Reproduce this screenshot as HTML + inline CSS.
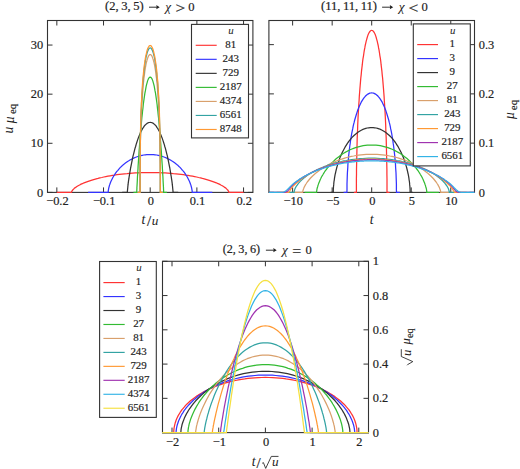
<!DOCTYPE html>
<html><head><meta charset="utf-8"><style>
html,body{margin:0;padding:0;background:#fff;}
svg{display:block;font-family:"Liberation Serif", serif;}
text{fill:#222;stroke:#222;stroke-width:0.18px;}
tspan[font-style=italic]{stroke:none;}
</style></head><body>
<svg width="520" height="469" viewBox="0 0 520 469">
<rect width="520" height="469" fill="#fff"/>
<rect x="47.50" y="20.50" width="205.40" height="171.90" fill="none" stroke="#333" stroke-width="1.1"/>
<path d="M56.84,192.40V187.40M56.84,20.50V25.50" stroke="#333" stroke-width="1"/>
<path d="M103.52,192.40V187.40M103.52,20.50V25.50" stroke="#333" stroke-width="1"/>
<path d="M150.20,192.40V187.40M150.20,20.50V25.50" stroke="#333" stroke-width="1"/>
<path d="M196.88,192.40V187.40M196.88,20.50V25.50" stroke="#333" stroke-width="1"/>
<path d="M243.56,192.40V187.40M243.56,20.50V25.50" stroke="#333" stroke-width="1"/>
<path d="M47.50,192.40H52.50M252.90,192.40H247.90" stroke="#333" stroke-width="1"/>
<path d="M47.50,143.29H52.50M252.90,143.29H247.90" stroke="#333" stroke-width="1"/>
<path d="M47.50,94.17H52.50M252.90,94.17H247.90" stroke="#333" stroke-width="1"/>
<path d="M47.50,45.06H52.50M252.90,45.06H247.90" stroke="#333" stroke-width="1"/>
<g fill="none" stroke-width="1.25" stroke-linejoin="round">
<path d="M56.8,192.4 L71.5,192.4 L71.6,192.1 L71.7,191.8 L71.8,191.4 L72.0,190.9 L72.3,190.5 L72.7,190.0 L73.1,189.6 L73.6,189.1 L74.1,188.6 L74.7,188.1 L75.3,187.6 L76.1,187.1 L76.9,186.5 L77.7,186.0 L78.6,185.5 L79.6,185.0 L80.6,184.4 L81.7,183.9 L82.9,183.4 L84.1,182.8 L85.4,182.3 L86.8,181.8 L88.2,181.3 L89.7,180.8 L91.2,180.3 L92.8,179.8 L94.5,179.3 L96.2,178.8 L98.0,178.4 L99.9,177.9 L101.8,177.5 L103.8,177.0 L105.8,176.6 L107.9,176.2 L110.1,175.8 L112.3,175.4 L114.6,175.1 L117.0,174.7 L119.4,174.4 L121.9,174.1 L124.4,173.8 L127.0,173.6 L129.7,173.3 L132.5,173.1 L135.3,172.9 L138.1,172.8 L141.0,172.7 L144.0,172.6 L147.1,172.5 L150.2,172.5 L153.3,172.5 L156.4,172.6 L159.4,172.7 L162.3,172.8 L165.1,172.9 L167.9,173.1 L170.7,173.3 L173.4,173.6 L176.0,173.8 L178.5,174.1 L181.0,174.4 L183.4,174.7 L185.8,175.1 L188.1,175.4 L190.3,175.8 L192.5,176.2 L194.6,176.6 L196.6,177.0 L198.6,177.5 L200.5,177.9 L202.4,178.4 L204.2,178.8 L205.9,179.3 L207.6,179.8 L209.2,180.3 L210.7,180.8 L212.2,181.3 L213.6,181.8 L215.0,182.3 L216.3,182.8 L217.5,183.4 L218.7,183.9 L219.8,184.4 L220.8,185.0 L221.8,185.5 L222.7,186.0 L223.5,186.5 L224.3,187.1 L225.1,187.6 L225.7,188.1 L226.3,188.6 L226.8,189.1 L227.3,189.6 L227.7,190.0 L228.1,190.5 L228.4,190.9 L228.6,191.4 L228.7,191.8 L228.8,192.1 L228.9,192.4 L243.6,192.4" stroke="#ff3333"/>
<path d="M88.1,192.4 L108.2,192.4 L108.2,191.9 L108.3,191.2 L108.3,190.4 L108.5,189.6 L108.6,188.8 L108.8,187.9 L109.0,187.0 L109.3,186.1 L109.5,185.1 L109.9,184.2 L110.2,183.2 L110.6,182.2 L111.0,181.2 L111.5,180.2 L112.0,179.2 L112.5,178.2 L113.0,177.2 L113.6,176.2 L114.3,175.2 L114.9,174.2 L115.6,173.2 L116.3,172.2 L117.1,171.2 L117.9,170.3 L118.7,169.3 L119.5,168.4 L120.4,167.4 L121.4,166.5 L122.3,165.6 L123.3,164.8 L124.3,163.9 L125.4,163.1 L126.5,162.3 L127.6,161.5 L128.8,160.8 L130.0,160.0 L131.2,159.4 L132.5,158.7 L133.7,158.1 L135.1,157.5 L136.4,157.0 L137.8,156.5 L139.3,156.0 L140.7,155.7 L142.2,155.3 L143.7,155.0 L145.3,154.8 L146.9,154.6 L148.5,154.5 L150.2,154.5 L151.9,154.5 L153.5,154.6 L155.1,154.8 L156.7,155.0 L158.2,155.3 L159.7,155.7 L161.1,156.0 L162.6,156.5 L164.0,157.0 L165.3,157.5 L166.7,158.1 L167.9,158.7 L169.2,159.4 L170.4,160.0 L171.6,160.8 L172.8,161.5 L173.9,162.3 L175.0,163.1 L176.1,163.9 L177.1,164.8 L178.1,165.6 L179.0,166.5 L180.0,167.4 L180.9,168.4 L181.7,169.3 L182.5,170.3 L183.3,171.2 L184.1,172.2 L184.8,173.2 L185.5,174.2 L186.1,175.2 L186.8,176.2 L187.4,177.2 L187.9,178.2 L188.4,179.2 L188.9,180.2 L189.4,181.2 L189.8,182.2 L190.2,183.2 L190.5,184.2 L190.9,185.1 L191.1,186.1 L191.4,187.0 L191.6,187.9 L191.8,188.8 L191.9,189.6 L192.1,190.4 L192.1,191.2 L192.2,191.9 L192.2,192.4 L212.3,192.4" stroke="#3333ff"/>
<path d="M122.2,192.4 L127.3,192.4 L127.3,192.2 L127.4,191.7 L127.4,191.0 L127.5,190.3 L127.6,189.3 L127.7,188.3 L127.8,187.2 L127.9,186.0 L128.1,184.7 L128.2,183.3 L128.4,181.8 L128.6,180.3 L128.9,178.7 L129.1,177.0 L129.4,175.3 L129.7,173.5 L130.0,171.7 L130.3,169.9 L130.6,168.0 L131.0,166.1 L131.4,164.1 L131.8,162.2 L132.2,160.2 L132.6,158.2 L133.0,156.2 L133.5,154.3 L134.0,152.3 L134.5,150.3 L135.0,148.4 L135.6,146.5 L136.1,144.6 L136.7,142.7 L137.3,140.9 L137.9,139.1 L138.5,137.4 L139.2,135.7 L139.9,134.1 L140.5,132.6 L141.2,131.1 L142.0,129.7 L142.7,128.4 L143.5,127.3 L144.2,126.2 L145.0,125.2 L145.9,124.4 L146.7,123.7 L147.5,123.1 L148.4,122.7 L149.3,122.5 L150.2,122.4 L151.1,122.5 L152.0,122.7 L152.9,123.1 L153.7,123.7 L154.5,124.4 L155.4,125.2 L156.2,126.2 L156.9,127.3 L157.7,128.4 L158.4,129.7 L159.2,131.1 L159.9,132.6 L160.5,134.1 L161.2,135.7 L161.9,137.4 L162.5,139.1 L163.1,140.9 L163.7,142.7 L164.3,144.6 L164.8,146.5 L165.4,148.4 L165.9,150.3 L166.4,152.3 L166.9,154.3 L167.4,156.2 L167.8,158.2 L168.2,160.2 L168.6,162.2 L169.0,164.1 L169.4,166.1 L169.8,168.0 L170.1,169.9 L170.4,171.7 L170.7,173.5 L171.0,175.3 L171.3,177.0 L171.5,178.7 L171.8,180.3 L172.0,181.8 L172.2,183.3 L172.3,184.7 L172.5,186.0 L172.6,187.2 L172.7,188.3 L172.8,189.3 L172.9,190.3 L173.0,191.0 L173.0,191.7 L173.1,192.2 L173.1,192.4 L178.2,192.4" stroke="#333333"/>
<path d="M133.4,192.4 L136.8,192.4 L136.8,192.2 L136.8,191.7 L136.8,191.0 L136.8,190.1 L136.9,189.0 L136.9,187.7 L137.0,186.2 L137.1,184.5 L137.2,182.7 L137.3,180.7 L137.4,178.6 L137.5,176.3 L137.7,173.9 L137.8,171.4 L138.0,168.8 L138.1,166.0 L138.3,163.2 L138.5,160.2 L138.7,157.2 L138.9,154.1 L139.1,150.9 L139.4,147.6 L139.6,144.3 L139.9,141.0 L140.1,137.6 L140.4,134.2 L140.7,130.8 L141.0,127.4 L141.3,124.0 L141.6,120.7 L141.9,117.3 L142.3,114.0 L142.6,110.8 L143.0,107.6 L143.3,104.5 L143.7,101.5 L144.1,98.6 L144.5,95.8 L144.9,93.2 L145.4,90.7 L145.8,88.3 L146.2,86.2 L146.7,84.2 L147.2,82.4 L147.6,80.9 L148.1,79.6 L148.6,78.5 L149.1,77.8 L149.7,77.3 L150.2,77.1 L150.7,77.3 L151.3,77.8 L151.8,78.5 L152.3,79.6 L152.8,80.9 L153.2,82.4 L153.7,84.2 L154.2,86.2 L154.6,88.3 L155.0,90.7 L155.5,93.2 L155.9,95.8 L156.3,98.6 L156.7,101.5 L157.1,104.5 L157.4,107.6 L157.8,110.8 L158.1,114.0 L158.5,117.3 L158.8,120.7 L159.1,124.0 L159.4,127.4 L159.7,130.8 L160.0,134.2 L160.3,137.6 L160.5,141.0 L160.8,144.3 L161.0,147.6 L161.3,150.9 L161.5,154.1 L161.7,157.2 L161.9,160.2 L162.1,163.2 L162.3,166.0 L162.4,168.8 L162.6,171.4 L162.7,173.9 L162.9,176.3 L163.0,178.6 L163.1,180.7 L163.2,182.7 L163.3,184.5 L163.4,186.2 L163.5,187.7 L163.5,189.0 L163.6,190.1 L163.6,191.0 L163.6,191.7 L163.6,192.2 L163.6,192.4 L167.0,192.4" stroke="#33bb33"/>
<path d="M137.6,192.4 L140.0,192.4 L140.0,184.4 L140.0,178.6 L140.1,173.3 L140.1,168.3 L140.1,163.6 L140.2,159.1 L140.2,154.8 L140.3,150.6 L140.4,146.6 L140.4,142.6 L140.5,138.8 L140.6,135.0 L140.7,131.3 L140.8,127.7 L140.9,124.2 L141.1,120.8 L141.2,117.5 L141.3,114.2 L141.5,111.0 L141.7,107.9 L141.8,104.8 L142.0,101.8 L142.2,98.9 L142.4,96.1 L142.6,93.4 L142.8,90.7 L143.0,88.1 L143.2,85.5 L143.4,83.1 L143.7,80.7 L143.9,78.5 L144.2,76.3 L144.5,74.1 L144.7,72.1 L145.0,70.2 L145.3,68.3 L145.6,66.6 L145.9,65.0 L146.2,63.4 L146.5,62.0 L146.9,60.7 L147.2,59.4 L147.6,58.4 L147.9,57.4 L148.3,56.5 L148.6,55.8 L149.0,55.3 L149.4,54.9 L149.8,54.6 L150.2,54.5 L150.6,54.6 L151.0,54.9 L151.4,55.3 L151.8,55.8 L152.1,56.5 L152.5,57.4 L152.8,58.4 L153.2,59.4 L153.5,60.7 L153.9,62.0 L154.2,63.4 L154.5,65.0 L154.8,66.6 L155.1,68.3 L155.4,70.2 L155.7,72.1 L155.9,74.1 L156.2,76.3 L156.5,78.5 L156.7,80.7 L157.0,83.1 L157.2,85.5 L157.4,88.1 L157.6,90.7 L157.8,93.4 L158.0,96.1 L158.2,98.9 L158.4,101.8 L158.6,104.8 L158.7,107.9 L158.9,111.0 L159.1,114.2 L159.2,117.5 L159.3,120.8 L159.5,124.2 L159.6,127.7 L159.7,131.3 L159.8,135.0 L159.9,138.8 L160.0,142.6 L160.0,146.6 L160.1,150.6 L160.2,154.8 L160.2,159.1 L160.3,163.6 L160.3,168.3 L160.3,173.3 L160.4,178.6 L160.4,184.4 L160.4,192.4 L162.8,192.4" stroke="#d9a06c"/>
<path d="M137.6,192.4 L140.1,192.4 L140.1,182.1 L140.1,175.2 L140.1,169.1 L140.1,163.6 L140.2,158.5 L140.2,153.6 L140.3,149.0 L140.3,144.5 L140.4,140.2 L140.5,136.1 L140.6,132.0 L140.7,128.1 L140.8,124.4 L140.9,120.7 L141.0,117.1 L141.1,113.6 L141.2,110.2 L141.4,106.9 L141.5,103.6 L141.7,100.5 L141.9,97.4 L142.0,94.4 L142.2,91.5 L142.4,88.7 L142.6,86.0 L142.8,83.3 L143.0,80.7 L143.2,78.2 L143.5,75.8 L143.7,73.5 L144.0,71.3 L144.2,69.1 L144.5,67.0 L144.8,65.0 L145.0,63.1 L145.3,61.3 L145.6,59.6 L145.9,58.0 L146.2,56.5 L146.6,55.1 L146.9,53.8 L147.2,52.7 L147.6,51.6 L147.9,50.7 L148.3,49.9 L148.6,49.2 L149.0,48.6 L149.4,48.2 L149.8,48.0 L150.2,47.9 L150.6,48.0 L151.0,48.2 L151.4,48.6 L151.8,49.2 L152.1,49.9 L152.5,50.7 L152.8,51.6 L153.2,52.7 L153.5,53.8 L153.8,55.1 L154.2,56.5 L154.5,58.0 L154.8,59.6 L155.1,61.3 L155.4,63.1 L155.6,65.0 L155.9,67.0 L156.2,69.1 L156.4,71.3 L156.7,73.5 L156.9,75.8 L157.2,78.2 L157.4,80.7 L157.6,83.3 L157.8,86.0 L158.0,88.7 L158.2,91.5 L158.4,94.4 L158.5,97.4 L158.7,100.5 L158.9,103.6 L159.0,106.9 L159.2,110.2 L159.3,113.6 L159.4,117.1 L159.5,120.7 L159.6,124.4 L159.7,128.1 L159.8,132.0 L159.9,136.1 L160.0,140.2 L160.1,144.5 L160.1,149.0 L160.2,153.6 L160.2,158.5 L160.3,163.6 L160.3,169.1 L160.3,175.2 L160.3,182.1 L160.3,192.4 L162.8,192.4" stroke="#33a3a3"/>
<path d="M137.6,192.4 L140.1,192.4 L140.1,180.3 L140.1,172.7 L140.2,166.3 L140.2,160.5 L140.2,155.1 L140.3,150.1 L140.3,145.3 L140.4,140.7 L140.4,136.3 L140.5,132.1 L140.6,128.1 L140.7,124.2 L140.8,120.3 L140.9,116.7 L141.0,113.1 L141.1,109.6 L141.3,106.2 L141.4,102.9 L141.6,99.8 L141.7,96.6 L141.9,93.6 L142.1,90.7 L142.3,87.9 L142.4,85.1 L142.6,82.4 L142.8,79.8 L143.1,77.3 L143.3,74.9 L143.5,72.5 L143.7,70.2 L144.0,68.1 L144.2,66.0 L144.5,64.0 L144.8,62.0 L145.1,60.2 L145.3,58.5 L145.6,56.8 L145.9,55.3 L146.3,53.8 L146.6,52.5 L146.9,51.2 L147.2,50.1 L147.6,49.1 L147.9,48.2 L148.3,47.4 L148.7,46.7 L149.0,46.2 L149.4,45.8 L149.8,45.6 L150.2,45.5 L150.6,45.6 L151.0,45.8 L151.4,46.2 L151.7,46.7 L152.1,47.4 L152.5,48.2 L152.8,49.1 L153.2,50.1 L153.5,51.2 L153.8,52.5 L154.1,53.8 L154.5,55.3 L154.8,56.8 L155.1,58.5 L155.3,60.2 L155.6,62.0 L155.9,64.0 L156.2,66.0 L156.4,68.1 L156.7,70.2 L156.9,72.5 L157.1,74.9 L157.3,77.3 L157.6,79.8 L157.8,82.4 L158.0,85.1 L158.1,87.9 L158.3,90.7 L158.5,93.6 L158.7,96.6 L158.8,99.8 L159.0,102.9 L159.1,106.2 L159.3,109.6 L159.4,113.1 L159.5,116.7 L159.6,120.3 L159.7,124.2 L159.8,128.1 L159.9,132.1 L160.0,136.3 L160.0,140.7 L160.1,145.3 L160.1,150.1 L160.2,155.1 L160.2,160.5 L160.2,166.3 L160.3,172.7 L160.3,180.3 L160.3,192.4 L162.8,192.4" stroke="#ff9933"/>
</g>
<rect x="268.90" y="20.50" width="205.60" height="171.90" fill="none" stroke="#333" stroke-width="1.1"/>
<path d="M292.62,192.40V187.40M292.62,20.50V25.50" stroke="#333" stroke-width="1"/>
<path d="M332.16,192.40V187.40M332.16,20.50V25.50" stroke="#333" stroke-width="1"/>
<path d="M371.70,192.40V187.40M371.70,20.50V25.50" stroke="#333" stroke-width="1"/>
<path d="M411.24,192.40V187.40M411.24,20.50V25.50" stroke="#333" stroke-width="1"/>
<path d="M450.78,192.40V187.40M450.78,20.50V25.50" stroke="#333" stroke-width="1"/>
<path d="M268.90,192.40H273.90M474.50,192.40H469.50" stroke="#333" stroke-width="1"/>
<path d="M268.90,143.14H273.90M474.50,143.14H469.50" stroke="#333" stroke-width="1"/>
<path d="M268.90,93.89H273.90M474.50,93.89H469.50" stroke="#333" stroke-width="1"/>
<path d="M268.90,44.63H273.90M474.50,44.63H469.50" stroke="#333" stroke-width="1"/>
<g fill="none" stroke-width="1.25" stroke-linejoin="round">
<path d="M353.9,192.4 L356.4,192.4 L356.4,187.8 L356.4,183.2 L356.4,178.7 L356.5,174.1 L356.5,169.5 L356.6,165.0 L356.7,160.5 L356.8,156.0 L356.9,151.5 L357.0,147.0 L357.1,142.6 L357.2,138.2 L357.4,133.8 L357.6,129.5 L357.7,125.2 L357.9,121.0 L358.1,116.8 L358.3,112.6 L358.6,108.5 L358.8,104.5 L359.1,100.5 L359.3,96.6 L359.6,92.7 L359.9,88.9 L360.2,85.2 L360.5,81.6 L360.8,78.0 L361.2,74.6 L361.5,71.2 L361.9,67.9 L362.3,64.7 L362.6,61.6 L363.0,58.6 L363.5,55.8 L363.9,53.0 L364.3,50.4 L364.8,47.9 L365.2,45.5 L365.7,43.3 L366.2,41.2 L366.7,39.3 L367.2,37.5 L367.7,35.9 L368.2,34.5 L368.8,33.3 L369.3,32.3 L369.9,31.5 L370.5,30.8 L371.1,30.5 L371.7,30.4 L372.3,30.5 L372.9,30.8 L373.5,31.5 L374.1,32.3 L374.6,33.3 L375.2,34.5 L375.7,35.9 L376.2,37.5 L376.7,39.3 L377.2,41.2 L377.7,43.3 L378.2,45.5 L378.6,47.9 L379.1,50.4 L379.5,53.0 L379.9,55.8 L380.4,58.6 L380.8,61.6 L381.1,64.7 L381.5,67.9 L381.9,71.2 L382.2,74.6 L382.6,78.0 L382.9,81.6 L383.2,85.2 L383.5,88.9 L383.8,92.7 L384.1,96.6 L384.3,100.5 L384.6,104.5 L384.8,108.5 L385.1,112.6 L385.3,116.8 L385.5,121.0 L385.7,125.2 L385.8,129.5 L386.0,133.8 L386.2,138.2 L386.3,142.6 L386.4,147.0 L386.5,151.5 L386.6,156.0 L386.7,160.5 L386.8,165.0 L386.9,169.5 L386.9,174.1 L387.0,178.7 L387.0,183.2 L387.0,187.8 L387.0,192.4 L389.5,192.4" stroke="#ff3333"/>
<path d="M343.6,192.4 L346.9,192.4 L347.0,189.6 L347.0,186.8 L347.0,184.0 L347.1,181.2 L347.2,178.4 L347.3,175.6 L347.4,172.8 L347.6,170.0 L347.8,167.3 L347.9,164.5 L348.1,161.8 L348.4,159.1 L348.6,156.4 L348.9,153.8 L349.2,151.1 L349.5,148.5 L349.8,146.0 L350.2,143.4 L350.5,140.9 L350.9,138.4 L351.3,136.0 L351.7,133.6 L352.2,131.2 L352.7,128.9 L353.1,126.6 L353.6,124.4 L354.2,122.2 L354.7,120.0 L355.3,118.0 L355.9,116.0 L356.5,114.0 L357.1,112.1 L357.7,110.3 L358.4,108.5 L359.1,106.8 L359.8,105.2 L360.5,103.7 L361.2,102.2 L362.0,100.9 L362.8,99.6 L363.6,98.4 L364.4,97.3 L365.3,96.3 L366.1,95.5 L367.0,94.7 L367.9,94.1 L368.8,93.6 L369.8,93.2 L370.7,93.0 L371.7,92.9 L372.7,93.0 L373.6,93.2 L374.6,93.6 L375.5,94.1 L376.4,94.7 L377.3,95.5 L378.1,96.3 L379.0,97.3 L379.8,98.4 L380.6,99.6 L381.4,100.9 L382.2,102.2 L382.9,103.7 L383.6,105.2 L384.3,106.8 L385.0,108.5 L385.7,110.3 L386.3,112.1 L386.9,114.0 L387.5,116.0 L388.1,118.0 L388.7,120.0 L389.2,122.2 L389.8,124.4 L390.3,126.6 L390.7,128.9 L391.2,131.2 L391.7,133.6 L392.1,136.0 L392.5,138.4 L392.9,140.9 L393.2,143.4 L393.6,146.0 L393.9,148.5 L394.2,151.1 L394.5,153.8 L394.8,156.4 L395.0,159.1 L395.3,161.8 L395.5,164.5 L395.6,167.3 L395.8,170.0 L396.0,172.8 L396.1,175.6 L396.2,178.4 L396.3,181.2 L396.4,184.0 L396.4,186.8 L396.4,189.6 L396.5,192.4 L399.8,192.4" stroke="#3333ff"/>
<path d="M330.6,192.4 L333.3,192.4 L333.3,191.1 L333.3,189.6 L333.4,188.1 L333.5,186.5 L333.7,184.9 L333.8,183.2 L334.0,181.5 L334.3,179.8 L334.5,178.1 L334.8,176.4 L335.1,174.7 L335.5,173.0 L335.9,171.2 L336.3,169.5 L336.7,167.8 L337.2,166.1 L337.7,164.3 L338.2,162.6 L338.8,161.0 L339.4,159.3 L340.0,157.6 L340.7,156.0 L341.4,154.4 L342.1,152.8 L342.9,151.2 L343.7,149.7 L344.5,148.2 L345.3,146.7 L346.2,145.3 L347.1,143.9 L348.0,142.5 L349.0,141.2 L350.0,139.9 L351.0,138.6 L352.1,137.4 L353.2,136.3 L354.3,135.2 L355.5,134.2 L356.7,133.2 L357.9,132.3 L359.1,131.5 L360.4,130.7 L361.7,130.0 L363.0,129.4 L364.4,128.8 L365.8,128.4 L367.2,128.0 L368.7,127.8 L370.2,127.6 L371.7,127.5 L373.2,127.6 L374.7,127.8 L376.2,128.0 L377.6,128.4 L379.0,128.8 L380.4,129.4 L381.7,130.0 L383.0,130.7 L384.3,131.5 L385.5,132.3 L386.7,133.2 L387.9,134.2 L389.1,135.2 L390.2,136.3 L391.3,137.4 L392.4,138.6 L393.4,139.9 L394.4,141.2 L395.4,142.5 L396.3,143.9 L397.2,145.3 L398.1,146.7 L398.9,148.2 L399.7,149.7 L400.5,151.2 L401.3,152.8 L402.0,154.4 L402.7,156.0 L403.4,157.6 L404.0,159.3 L404.6,161.0 L405.2,162.6 L405.7,164.3 L406.2,166.1 L406.7,167.8 L407.1,169.5 L407.5,171.2 L407.9,173.0 L408.3,174.7 L408.6,176.4 L408.9,178.1 L409.1,179.8 L409.4,181.5 L409.6,183.2 L409.7,184.9 L409.9,186.5 L410.0,188.1 L410.1,189.6 L410.1,191.1 L410.1,192.4 L412.8,192.4" stroke="#333333"/>
<path d="M304.5,192.4 L316.6,192.4 L316.6,191.9 L316.7,191.2 L316.8,190.4 L316.9,189.5 L317.1,188.5 L317.4,187.5 L317.7,186.5 L318.0,185.4 L318.4,184.3 L318.8,183.1 L319.3,181.9 L319.8,180.7 L320.3,179.5 L320.9,178.3 L321.5,177.0 L322.2,175.8 L323.0,174.5 L323.7,173.3 L324.5,172.0 L325.4,170.7 L326.3,169.5 L327.3,168.2 L328.2,167.0 L329.3,165.7 L330.4,164.5 L331.5,163.3 L332.7,162.1 L333.9,160.9 L335.1,159.7 L336.4,158.6 L337.8,157.5 L339.2,156.4 L340.6,155.3 L342.1,154.3 L343.6,153.3 L345.2,152.4 L346.8,151.5 L348.4,150.6 L350.1,149.8 L351.9,149.0 L353.6,148.3 L355.5,147.7 L357.3,147.1 L359.3,146.6 L361.2,146.1 L363.2,145.7 L365.3,145.4 L367.4,145.2 L369.5,145.1 L371.7,145.0 L373.9,145.1 L376.0,145.2 L378.1,145.4 L380.2,145.7 L382.2,146.1 L384.1,146.6 L386.1,147.1 L387.9,147.7 L389.8,148.3 L391.5,149.0 L393.3,149.8 L395.0,150.6 L396.6,151.5 L398.2,152.4 L399.8,153.3 L401.3,154.3 L402.8,155.3 L404.2,156.4 L405.6,157.5 L407.0,158.6 L408.3,159.7 L409.5,160.9 L410.7,162.1 L411.9,163.3 L413.0,164.5 L414.1,165.7 L415.2,167.0 L416.1,168.2 L417.1,169.5 L418.0,170.7 L418.9,172.0 L419.7,173.3 L420.4,174.5 L421.2,175.8 L421.9,177.0 L422.5,178.3 L423.1,179.5 L423.6,180.7 L424.1,181.9 L424.6,183.1 L425.0,184.3 L425.4,185.4 L425.7,186.5 L426.0,187.5 L426.3,188.5 L426.5,189.5 L426.6,190.4 L426.7,191.2 L426.8,191.9 L426.8,192.4 L438.9,192.4" stroke="#33bb33"/>
<path d="M292.6,192.4 L302.7,192.4 L302.7,192.0 L302.8,191.4 L302.9,190.8 L303.1,190.1 L303.4,189.3 L303.7,188.5 L304.0,187.6 L304.4,186.8 L304.9,185.9 L305.4,184.9 L306.0,184.0 L306.6,183.0 L307.3,182.0 L308.1,181.0 L308.9,180.0 L309.7,179.0 L310.6,178.0 L311.6,177.0 L312.6,176.0 L313.7,175.0 L314.8,174.0 L316.0,172.9 L317.3,171.9 L318.6,170.9 L319.9,169.9 L321.3,169.0 L322.8,168.0 L324.3,167.0 L325.9,166.1 L327.5,165.2 L329.2,164.3 L330.9,163.4 L332.7,162.6 L334.6,161.8 L336.5,161.0 L338.5,160.2 L340.5,159.5 L342.5,158.8 L344.7,158.1 L346.8,157.5 L349.1,156.9 L351.4,156.4 L353.7,156.0 L356.1,155.5 L358.6,155.2 L361.1,154.9 L363.7,154.6 L366.3,154.4 L369.0,154.3 L371.7,154.3 L374.4,154.3 L377.1,154.4 L379.7,154.6 L382.3,154.9 L384.8,155.2 L387.3,155.5 L389.7,156.0 L392.0,156.4 L394.3,156.9 L396.6,157.5 L398.7,158.1 L400.9,158.8 L402.9,159.5 L404.9,160.2 L406.9,161.0 L408.8,161.8 L410.7,162.6 L412.5,163.4 L414.2,164.3 L415.9,165.2 L417.5,166.1 L419.1,167.0 L420.6,168.0 L422.1,169.0 L423.5,169.9 L424.8,170.9 L426.1,171.9 L427.4,172.9 L428.6,174.0 L429.7,175.0 L430.8,176.0 L431.8,177.0 L432.8,178.0 L433.7,179.0 L434.5,180.0 L435.3,181.0 L436.1,182.0 L436.8,183.0 L437.4,184.0 L438.0,184.9 L438.5,185.9 L439.0,186.8 L439.4,187.6 L439.7,188.5 L440.0,189.3 L440.3,190.1 L440.5,190.8 L440.6,191.4 L440.7,192.0 L440.7,192.4 L450.8,192.4" stroke="#d9a06c"/>
<path d="M284.7,192.4 L294.1,192.4 L294.2,191.9 L294.2,191.3 L294.4,190.6 L294.6,189.9 L294.9,189.1 L295.2,188.3 L295.6,187.5 L296.1,186.7 L296.6,185.8 L297.2,185.0 L297.9,184.1 L298.6,183.2 L299.4,182.3 L300.2,181.4 L301.1,180.5 L302.1,179.6 L303.1,178.7 L304.2,177.8 L305.3,176.9 L306.5,176.0 L307.8,175.1 L309.1,174.2 L310.5,173.3 L312.0,172.4 L313.5,171.6 L315.1,170.7 L316.7,169.9 L318.5,169.1 L320.2,168.3 L322.1,167.5 L323.9,166.7 L325.9,166.0 L327.9,165.2 L330.0,164.5 L332.1,163.9 L334.3,163.2 L336.6,162.6 L338.9,162.0 L341.3,161.5 L343.8,160.9 L346.3,160.5 L348.9,160.0 L351.5,159.6 L354.2,159.3 L357.0,159.0 L359.8,158.7 L362.7,158.5 L365.6,158.3 L368.6,158.2 L371.7,158.2 L374.8,158.2 L377.8,158.3 L380.7,158.5 L383.6,158.7 L386.4,159.0 L389.2,159.3 L391.9,159.6 L394.5,160.0 L397.1,160.5 L399.6,160.9 L402.1,161.5 L404.5,162.0 L406.8,162.6 L409.1,163.2 L411.3,163.9 L413.4,164.5 L415.5,165.2 L417.5,166.0 L419.5,166.7 L421.3,167.5 L423.2,168.3 L424.9,169.1 L426.7,169.9 L428.3,170.7 L429.9,171.6 L431.4,172.4 L432.9,173.3 L434.3,174.2 L435.6,175.1 L436.9,176.0 L438.1,176.9 L439.2,177.8 L440.3,178.7 L441.3,179.6 L442.3,180.5 L443.2,181.4 L444.0,182.3 L444.8,183.2 L445.5,184.1 L446.2,185.0 L446.8,185.8 L447.3,186.7 L447.8,187.5 L448.2,188.3 L448.5,189.1 L448.8,189.9 L449.0,190.6 L449.2,191.3 L449.2,191.9 L449.3,192.4 L458.7,192.4" stroke="#33a3a3"/>
<path d="M276.8,192.4 L287.5,192.4 L288.7,192.4 L289.9,190.8 L291.0,188.8 L292.2,187.2 L293.4,185.9 L294.6,184.7 L295.8,183.5 L297.0,182.5 L298.2,181.5 L299.3,180.5 L300.5,179.6 L301.7,178.8 L302.9,178.0 L304.1,177.2 L305.3,176.4 L306.5,175.7 L307.6,175.0 L308.8,174.3 L310.0,173.7 L311.2,173.0 L312.4,172.4 L313.6,171.8 L314.8,171.3 L316.0,170.7 L317.1,170.2 L318.3,169.7 L319.5,169.1 L320.7,168.7 L321.9,168.2 L323.1,167.7 L324.3,167.3 L325.4,166.9 L326.6,166.4 L327.8,166.0 L329.0,165.7 L330.2,165.3 L331.4,164.9 L332.6,164.6 L333.7,164.2 L334.9,163.9 L336.1,163.6 L337.3,163.3 L338.5,163.0 L339.7,162.7 L340.9,162.4 L342.0,162.2 L343.2,161.9 L344.4,161.7 L345.6,161.5 L346.8,161.3 L348.0,161.1 L349.2,160.9 L350.3,160.7 L351.5,160.5 L352.7,160.4 L353.9,160.2 L355.1,160.1 L356.3,159.9 L357.5,159.8 L358.7,159.7 L359.8,159.6 L361.0,159.5 L362.2,159.4 L363.4,159.3 L364.6,159.3 L365.8,159.2 L367.0,159.2 L368.1,159.1 L369.3,159.1 L370.5,159.1 L371.7,159.1 L372.9,159.1 L374.1,159.1 L375.3,159.1 L376.4,159.2 L377.6,159.2 L378.8,159.3 L380.0,159.3 L381.2,159.4 L382.4,159.5 L383.6,159.6 L384.7,159.7 L385.9,159.8 L387.1,159.9 L388.3,160.1 L389.5,160.2 L390.7,160.4 L391.9,160.5 L393.1,160.7 L394.2,160.9 L395.4,161.1 L396.6,161.3 L397.8,161.5 L399.0,161.7 L400.2,161.9 L401.4,162.2 L402.5,162.4 L403.7,162.7 L404.9,163.0 L406.1,163.3 L407.3,163.6 L408.5,163.9 L409.7,164.2 L410.8,164.6 L412.0,164.9 L413.2,165.3 L414.4,165.7 L415.6,166.0 L416.8,166.4 L418.0,166.9 L419.1,167.3 L420.3,167.7 L421.5,168.2 L422.7,168.7 L423.9,169.1 L425.1,169.7 L426.3,170.2 L427.4,170.7 L428.6,171.3 L429.8,171.8 L431.0,172.4 L432.2,173.0 L433.4,173.7 L434.6,174.3 L435.8,175.0 L436.9,175.7 L438.1,176.4 L439.3,177.2 L440.5,178.0 L441.7,178.8 L442.9,179.6 L444.1,180.5 L445.2,181.5 L446.4,182.5 L447.6,183.5 L448.8,184.7 L450.0,185.9 L451.2,187.2 L452.4,188.8 L453.5,190.8 L454.7,192.4 L455.9,192.4 L466.6,192.4" stroke="#ff9933"/>
<path d="M268.9,192.4 L281.8,192.4 L283.0,192.4 L284.3,192.4 L285.6,192.2 L286.9,191.7 L288.2,190.4 L289.5,188.8 L290.7,187.1 L292.0,185.7 L293.3,184.5 L294.6,183.3 L295.9,182.2 L297.2,181.2 L298.5,180.3 L299.7,179.3 L301.0,178.5 L302.3,177.7 L303.6,176.9 L304.9,176.1 L306.2,175.4 L307.4,174.7 L308.7,174.0 L310.0,173.3 L311.3,172.7 L312.6,172.1 L313.9,171.5 L315.2,170.9 L316.4,170.4 L317.7,169.8 L319.0,169.3 L320.3,168.8 L321.6,168.3 L322.9,167.9 L324.2,167.4 L325.4,167.0 L326.7,166.5 L328.0,166.1 L329.3,165.8 L330.6,165.4 L331.9,165.0 L333.1,164.7 L334.4,164.3 L335.7,164.0 L337.0,163.7 L338.3,163.4 L339.6,163.1 L340.9,162.8 L342.1,162.6 L343.4,162.3 L344.7,162.1 L346.0,161.9 L347.3,161.6 L348.6,161.4 L349.9,161.3 L351.1,161.1 L352.4,160.9 L353.7,160.7 L355.0,160.6 L356.3,160.5 L357.6,160.3 L358.9,160.2 L360.1,160.1 L361.4,160.0 L362.7,160.0 L364.0,159.9 L365.3,159.8 L366.6,159.8 L367.8,159.7 L369.1,159.7 L370.4,159.7 L371.7,159.7 L373.0,159.7 L374.3,159.7 L375.6,159.7 L376.8,159.8 L378.1,159.8 L379.4,159.9 L380.7,160.0 L382.0,160.0 L383.3,160.1 L384.5,160.2 L385.8,160.3 L387.1,160.5 L388.4,160.6 L389.7,160.7 L391.0,160.9 L392.3,161.1 L393.5,161.3 L394.8,161.4 L396.1,161.6 L397.4,161.9 L398.7,162.1 L400.0,162.3 L401.3,162.6 L402.5,162.8 L403.8,163.1 L405.1,163.4 L406.4,163.7 L407.7,164.0 L409.0,164.3 L410.2,164.7 L411.5,165.0 L412.8,165.4 L414.1,165.8 L415.4,166.1 L416.7,166.5 L418.0,167.0 L419.2,167.4 L420.5,167.9 L421.8,168.3 L423.1,168.8 L424.4,169.3 L425.7,169.8 L427.0,170.4 L428.2,170.9 L429.5,171.5 L430.8,172.1 L432.1,172.7 L433.4,173.3 L434.7,174.0 L435.9,174.7 L437.2,175.4 L438.5,176.1 L439.8,176.9 L441.1,177.7 L442.4,178.5 L443.7,179.3 L444.9,180.3 L446.2,181.2 L447.5,182.2 L448.8,183.3 L450.1,184.5 L451.4,185.7 L452.7,187.1 L453.9,188.8 L455.2,190.4 L456.5,191.7 L457.8,192.2 L459.1,192.4 L460.4,192.4 L461.6,192.4 L474.5,192.4" stroke="#a033b0"/>
<path d="M268.9,192.4 L277.9,192.4 L279.2,192.4 L280.5,192.4 L281.8,192.3 L283.0,192.2 L284.3,191.8 L285.6,191.1 L286.9,190.1 L288.2,188.8 L289.5,187.5 L290.7,186.1 L292.0,184.9 L293.3,183.7 L294.6,182.7 L295.9,181.7 L297.2,180.8 L298.5,179.9 L299.7,179.0 L301.0,178.2 L302.3,177.5 L303.6,176.7 L304.9,176.0 L306.2,175.4 L307.4,174.7 L308.7,174.1 L310.0,173.5 L311.3,172.9 L312.6,172.3 L313.9,171.8 L315.2,171.2 L316.4,170.7 L317.7,170.2 L319.0,169.7 L320.3,169.3 L321.6,168.8 L322.9,168.4 L324.2,168.0 L325.4,167.6 L326.7,167.2 L328.0,166.8 L329.3,166.4 L330.6,166.1 L331.9,165.7 L333.1,165.4 L334.4,165.1 L335.7,164.8 L337.0,164.5 L338.3,164.2 L339.6,164.0 L340.9,163.7 L342.1,163.5 L343.4,163.2 L344.7,163.0 L346.0,162.8 L347.3,162.6 L348.6,162.4 L349.9,162.2 L351.1,162.1 L352.4,161.9 L353.7,161.8 L355.0,161.6 L356.3,161.5 L357.6,161.4 L358.9,161.3 L360.1,161.2 L361.4,161.1 L362.7,161.0 L364.0,161.0 L365.3,160.9 L366.6,160.9 L367.8,160.8 L369.1,160.8 L370.4,160.8 L371.7,160.8 L373.0,160.8 L374.3,160.8 L375.6,160.8 L376.8,160.9 L378.1,160.9 L379.4,161.0 L380.7,161.0 L382.0,161.1 L383.3,161.2 L384.5,161.3 L385.8,161.4 L387.1,161.5 L388.4,161.6 L389.7,161.8 L391.0,161.9 L392.3,162.1 L393.5,162.2 L394.8,162.4 L396.1,162.6 L397.4,162.8 L398.7,163.0 L400.0,163.2 L401.3,163.5 L402.5,163.7 L403.8,164.0 L405.1,164.2 L406.4,164.5 L407.7,164.8 L409.0,165.1 L410.2,165.4 L411.5,165.7 L412.8,166.1 L414.1,166.4 L415.4,166.8 L416.7,167.2 L418.0,167.6 L419.2,168.0 L420.5,168.4 L421.8,168.8 L423.1,169.3 L424.4,169.7 L425.7,170.2 L427.0,170.7 L428.2,171.2 L429.5,171.8 L430.8,172.3 L432.1,172.9 L433.4,173.5 L434.7,174.1 L435.9,174.7 L437.2,175.4 L438.5,176.0 L439.8,176.7 L441.1,177.5 L442.4,178.2 L443.7,179.0 L444.9,179.9 L446.2,180.8 L447.5,181.7 L448.8,182.7 L450.1,183.7 L451.4,184.9 L452.7,186.1 L453.9,187.5 L455.2,188.8 L456.5,190.1 L457.8,191.1 L459.1,191.8 L460.4,192.2 L461.6,192.3 L462.9,192.4 L464.2,192.4 L465.5,192.4 L474.5,192.4" stroke="#33b3e6"/>
</g>
<rect x="162.50" y="261.30" width="206.00" height="171.30" fill="none" stroke="#333" stroke-width="1.1"/>
<path d="M172.00,432.60V427.60M172.00,261.30V266.30" stroke="#333" stroke-width="1"/>
<path d="M218.70,432.60V427.60M218.70,261.30V266.30" stroke="#333" stroke-width="1"/>
<path d="M265.40,432.60V427.60M265.40,261.30V266.30" stroke="#333" stroke-width="1"/>
<path d="M312.10,432.60V427.60M312.10,261.30V266.30" stroke="#333" stroke-width="1"/>
<path d="M358.80,432.60V427.60M358.80,261.30V266.30" stroke="#333" stroke-width="1"/>
<path d="M162.50,432.60H167.50M368.50,432.60H363.50" stroke="#333" stroke-width="1"/>
<path d="M162.50,398.34H167.50M368.50,398.34H363.50" stroke="#333" stroke-width="1"/>
<path d="M162.50,364.08H167.50M368.50,364.08H363.50" stroke="#333" stroke-width="1"/>
<path d="M162.50,329.82H167.50M368.50,329.82H363.50" stroke="#333" stroke-width="1"/>
<path d="M162.50,295.56H167.50M368.50,295.56H363.50" stroke="#333" stroke-width="1"/>
<path d="M162.50,261.30H167.50M368.50,261.30H363.50" stroke="#333" stroke-width="1"/>
<g fill="none" stroke-width="1.25" stroke-linejoin="round">
<path d="M162.2,432.6 L173.8,432.6 L173.8,431.0 L173.9,429.5 L174.1,427.9 L174.4,426.4 L174.7,424.8 L175.1,423.3 L175.6,421.7 L176.1,420.2 L176.7,418.7 L177.4,417.2 L178.2,415.6 L179.1,414.2 L180.0,412.7 L181.0,411.2 L182.0,409.7 L183.2,408.3 L184.4,406.9 L185.6,405.4 L187.0,404.0 L188.4,402.7 L189.9,401.3 L191.5,400.0 L193.2,398.7 L194.9,397.4 L196.7,396.1 L198.5,394.9 L200.5,393.7 L202.5,392.5 L204.6,391.3 L206.8,390.2 L209.0,389.1 L211.3,388.1 L213.7,387.1 L216.1,386.1 L218.7,385.2 L221.3,384.3 L223.9,383.4 L226.7,382.6 L229.5,381.8 L232.4,381.1 L235.4,380.5 L238.4,379.9 L241.5,379.3 L244.7,378.9 L248.0,378.4 L251.3,378.1 L254.7,377.8 L258.2,377.6 L261.8,377.5 L265.4,377.4 L269.0,377.5 L272.6,377.6 L276.1,377.8 L279.5,378.1 L282.8,378.4 L286.1,378.9 L289.3,379.3 L292.4,379.9 L295.4,380.5 L298.4,381.1 L301.3,381.8 L304.1,382.6 L306.9,383.4 L309.5,384.3 L312.1,385.2 L314.7,386.1 L317.1,387.1 L319.5,388.1 L321.8,389.1 L324.0,390.2 L326.2,391.3 L328.3,392.5 L330.3,393.7 L332.3,394.9 L334.1,396.1 L335.9,397.4 L337.6,398.7 L339.3,400.0 L340.9,401.3 L342.4,402.7 L343.8,404.0 L345.2,405.4 L346.4,406.9 L347.6,408.3 L348.8,409.7 L349.8,411.2 L350.8,412.7 L351.7,414.2 L352.6,415.6 L353.4,417.2 L354.1,418.7 L354.7,420.2 L355.2,421.7 L355.7,423.3 L356.1,424.8 L356.4,426.4 L356.7,427.9 L356.9,429.5 L357.0,431.0 L357.0,432.6 L368.6,432.6" stroke="#ff3333"/>
<path d="M162.2,432.6 L176.1,432.6 L176.1,431.5 L176.3,430.2 L176.4,428.8 L176.7,427.4 L177.0,425.9 L177.4,424.5 L177.9,423.0 L178.4,421.5 L179.0,419.9 L179.7,418.4 L180.4,416.9 L181.3,415.3 L182.1,413.8 L183.1,412.3 L184.1,410.7 L185.3,409.2 L186.4,407.7 L187.7,406.2 L189.0,404.7 L190.4,403.2 L191.9,401.8 L193.4,400.3 L195.0,398.9 L196.7,397.5 L198.4,396.1 L200.3,394.7 L202.1,393.4 L204.1,392.1 L206.1,390.8 L208.3,389.5 L210.4,388.3 L212.7,387.1 L215.0,386.0 L217.4,384.9 L219.9,383.8 L222.4,382.8 L225.0,381.9 L227.7,380.9 L230.4,380.1 L233.3,379.3 L236.1,378.5 L239.1,377.8 L242.1,377.2 L245.3,376.7 L248.4,376.2 L251.7,375.8 L255.0,375.5 L258.4,375.2 L261.9,375.1 L265.4,375.0 L268.9,375.1 L272.4,375.2 L275.8,375.5 L279.1,375.8 L282.4,376.2 L285.5,376.7 L288.7,377.2 L291.7,377.8 L294.7,378.5 L297.5,379.3 L300.4,380.1 L303.1,380.9 L305.8,381.9 L308.4,382.8 L310.9,383.8 L313.4,384.9 L315.8,386.0 L318.1,387.1 L320.4,388.3 L322.5,389.5 L324.7,390.8 L326.7,392.1 L328.7,393.4 L330.5,394.7 L332.4,396.1 L334.1,397.5 L335.8,398.9 L337.4,400.3 L338.9,401.8 L340.4,403.2 L341.8,404.7 L343.1,406.2 L344.4,407.7 L345.5,409.2 L346.7,410.7 L347.7,412.3 L348.7,413.8 L349.5,415.3 L350.4,416.9 L351.1,418.4 L351.8,419.9 L352.4,421.5 L352.9,423.0 L353.4,424.5 L353.8,425.9 L354.1,427.4 L354.4,428.8 L354.5,430.2 L354.7,431.5 L354.7,432.6 L368.6,432.6" stroke="#3333ff"/>
<path d="M162.2,432.6 L180.8,432.6 L180.9,431.6 L181.0,430.4 L181.1,429.1 L181.4,427.7 L181.7,426.3 L182.0,424.8 L182.5,423.3 L183.0,421.7 L183.6,420.2 L184.2,418.6 L184.9,417.0 L185.7,415.4 L186.5,413.8 L187.5,412.1 L188.4,410.5 L189.5,408.9 L190.6,407.3 L191.8,405.6 L193.0,404.0 L194.4,402.4 L195.7,400.8 L197.2,399.3 L198.7,397.7 L200.3,396.2 L202.0,394.6 L203.7,393.1 L205.5,391.7 L207.3,390.2 L209.3,388.8 L211.3,387.4 L213.3,386.1 L215.5,384.8 L217.7,383.5 L219.9,382.3 L222.3,381.1 L224.7,380.0 L227.1,378.9 L229.7,377.9 L232.3,376.9 L235.0,376.0 L237.7,375.2 L240.5,374.4 L243.4,373.7 L246.3,373.1 L249.3,372.6 L252.4,372.1 L255.6,371.8 L258.8,371.5 L262.1,371.3 L265.4,371.3 L268.7,371.3 L272.0,371.5 L275.2,371.8 L278.4,372.1 L281.5,372.6 L284.5,373.1 L287.4,373.7 L290.3,374.4 L293.1,375.2 L295.8,376.0 L298.5,376.9 L301.1,377.9 L303.7,378.9 L306.1,380.0 L308.5,381.1 L310.9,382.3 L313.1,383.5 L315.3,384.8 L317.5,386.1 L319.5,387.4 L321.5,388.8 L323.5,390.2 L325.3,391.7 L327.1,393.1 L328.8,394.6 L330.5,396.2 L332.1,397.7 L333.6,399.3 L335.1,400.8 L336.4,402.4 L337.8,404.0 L339.0,405.6 L340.2,407.3 L341.3,408.9 L342.4,410.5 L343.3,412.1 L344.3,413.8 L345.1,415.4 L345.9,417.0 L346.6,418.6 L347.2,420.2 L347.8,421.7 L348.3,423.3 L348.8,424.8 L349.1,426.3 L349.4,427.7 L349.7,429.1 L349.8,430.4 L349.9,431.6 L350.0,432.6 L368.6,432.6" stroke="#333333"/>
<path d="M162.2,432.6 L187.9,432.6 L188.0,431.7 L188.0,430.6 L188.2,429.3 L188.4,427.8 L188.7,426.4 L189.0,424.8 L189.4,423.2 L189.9,421.6 L190.4,419.9 L191.0,418.2 L191.7,416.5 L192.4,414.7 L193.2,413.0 L194.0,411.2 L194.9,409.4 L195.9,407.6 L196.9,405.8 L198.0,404.0 L199.1,402.1 L200.3,400.3 L201.6,398.6 L202.9,396.8 L204.3,395.0 L205.8,393.3 L207.3,391.5 L208.9,389.8 L210.5,388.1 L212.2,386.5 L214.0,384.9 L215.8,383.3 L217.7,381.7 L219.7,380.2 L221.7,378.8 L223.7,377.4 L225.9,376.0 L228.1,374.7 L230.3,373.5 L232.7,372.3 L235.1,371.2 L237.5,370.1 L240.0,369.1 L242.6,368.3 L245.2,367.4 L247.9,366.7 L250.7,366.1 L253.5,365.6 L256.4,365.2 L259.3,364.8 L262.3,364.7 L265.4,364.6 L268.5,364.7 L271.5,364.8 L274.4,365.2 L277.3,365.6 L280.1,366.1 L282.9,366.7 L285.6,367.4 L288.2,368.3 L290.8,369.1 L293.3,370.1 L295.7,371.2 L298.1,372.3 L300.4,373.5 L302.7,374.7 L304.9,376.0 L307.1,377.4 L309.1,378.8 L311.1,380.2 L313.1,381.7 L315.0,383.3 L316.8,384.9 L318.6,386.5 L320.3,388.1 L321.9,389.8 L323.5,391.5 L325.0,393.3 L326.5,395.0 L327.9,396.8 L329.2,398.6 L330.5,400.3 L331.7,402.1 L332.8,404.0 L333.9,405.8 L334.9,407.6 L335.9,409.4 L336.8,411.2 L337.6,413.0 L338.4,414.7 L339.1,416.5 L339.8,418.2 L340.4,419.9 L340.9,421.6 L341.4,423.2 L341.8,424.8 L342.1,426.4 L342.4,427.8 L342.6,429.3 L342.8,430.6 L342.8,431.7 L342.9,432.6 L368.6,432.6" stroke="#33bb33"/>
<path d="M162.2,432.6 L195.6,432.6 L195.7,432.0 L195.7,431.1 L195.9,430.0 L196.1,428.8 L196.3,427.4 L196.6,425.9 L197.0,424.4 L197.4,422.7 L197.9,421.0 L198.4,419.2 L199.0,417.4 L199.6,415.5 L200.3,413.6 L201.1,411.6 L201.9,409.6 L202.8,407.6 L203.7,405.5 L204.7,403.4 L205.7,401.4 L206.8,399.3 L207.9,397.2 L209.1,395.0 L210.4,392.9 L211.7,390.9 L213.1,388.8 L214.5,386.7 L216.0,384.7 L217.5,382.6 L219.1,380.7 L220.7,378.7 L222.4,376.8 L224.2,374.9 L226.0,373.1 L227.9,371.3 L229.8,369.6 L231.8,368.0 L233.8,366.4 L235.9,364.9 L238.1,363.5 L240.3,362.2 L242.5,360.9 L244.9,359.8 L247.2,358.7 L249.7,357.8 L252.1,357.0 L254.7,356.3 L257.3,355.8 L259.9,355.4 L262.6,355.2 L265.4,355.1 L268.2,355.2 L270.9,355.4 L273.5,355.8 L276.1,356.3 L278.7,357.0 L281.1,357.8 L283.6,358.7 L285.9,359.8 L288.3,360.9 L290.5,362.2 L292.7,363.5 L294.9,364.9 L297.0,366.4 L299.0,368.0 L301.0,369.6 L302.9,371.3 L304.8,373.1 L306.6,374.9 L308.4,376.8 L310.1,378.7 L311.7,380.7 L313.3,382.6 L314.8,384.7 L316.3,386.7 L317.7,388.8 L319.1,390.9 L320.4,392.9 L321.7,395.0 L322.9,397.2 L324.0,399.3 L325.1,401.4 L326.1,403.4 L327.1,405.5 L328.0,407.6 L328.9,409.6 L329.7,411.6 L330.5,413.6 L331.2,415.5 L331.8,417.4 L332.4,419.2 L332.9,421.0 L333.4,422.7 L333.8,424.4 L334.2,425.9 L334.5,427.4 L334.7,428.8 L334.9,430.0 L335.1,431.1 L335.1,432.0 L335.2,432.6 L368.6,432.6" stroke="#d9a06c"/>
<path d="M162.2,432.6 L204.2,432.6 L204.2,432.1 L204.3,431.3 L204.4,430.3 L204.6,429.0 L204.8,427.7 L205.1,426.1 L205.4,424.5 L205.8,422.7 L206.2,420.9 L206.7,419.0 L207.2,416.9 L207.7,414.9 L208.4,412.7 L209.0,410.5 L209.7,408.2 L210.5,405.9 L211.3,403.5 L212.2,401.1 L213.1,398.7 L214.0,396.3 L215.0,393.8 L216.1,391.3 L217.2,388.9 L218.3,386.4 L219.5,383.9 L220.8,381.4 L222.1,379.0 L223.4,376.6 L224.8,374.2 L226.2,371.8 L227.7,369.5 L229.3,367.2 L230.9,365.0 L232.5,362.9 L234.2,360.8 L235.9,358.8 L237.7,356.8 L239.6,355.0 L241.4,353.2 L243.4,351.6 L245.4,350.1 L247.4,348.7 L249.5,347.4 L251.6,346.2 L253.8,345.2 L256.0,344.4 L258.3,343.7 L260.6,343.2 L263.0,342.9 L265.4,342.8 L267.8,342.9 L270.2,343.2 L272.5,343.7 L274.8,344.4 L277.0,345.2 L279.2,346.2 L281.3,347.4 L283.4,348.7 L285.4,350.1 L287.4,351.6 L289.4,353.2 L291.2,355.0 L293.1,356.8 L294.9,358.8 L296.6,360.8 L298.3,362.9 L299.9,365.0 L301.5,367.2 L303.1,369.5 L304.6,371.8 L306.0,374.2 L307.4,376.6 L308.7,379.0 L310.0,381.4 L311.3,383.9 L312.5,386.4 L313.6,388.9 L314.7,391.3 L315.8,393.8 L316.8,396.3 L317.7,398.7 L318.6,401.1 L319.5,403.5 L320.3,405.9 L321.1,408.2 L321.8,410.5 L322.4,412.7 L323.1,414.9 L323.6,416.9 L324.1,419.0 L324.6,420.9 L325.0,422.7 L325.4,424.5 L325.7,426.1 L326.0,427.7 L326.2,429.0 L326.4,430.3 L326.5,431.3 L326.6,432.1 L326.6,432.6 L368.6,432.6" stroke="#33a3a3"/>
<path d="M162.2,432.6 L212.3,432.6 L212.3,432.4 L212.4,431.8 L212.5,431.0 L212.6,430.0 L212.8,428.8 L213.1,427.4 L213.3,425.9 L213.7,424.2 L214.0,422.3 L214.4,420.3 L214.9,418.2 L215.4,416.0 L215.9,413.7 L216.5,411.2 L217.1,408.7 L217.7,406.1 L218.4,403.4 L219.2,400.6 L220.0,397.8 L220.8,394.9 L221.7,391.9 L222.6,388.9 L223.5,385.9 L224.5,382.8 L225.6,379.7 L226.7,376.7 L227.8,373.6 L229.0,370.5 L230.2,367.4 L231.4,364.4 L232.7,361.4 L234.1,358.5 L235.4,355.6 L236.9,352.7 L238.3,350.0 L239.8,347.3 L241.4,344.8 L243.0,342.3 L244.6,340.0 L246.3,337.8 L248.0,335.7 L249.8,333.8 L251.6,332.1 L253.4,330.5 L255.3,329.2 L257.2,328.0 L259.2,327.1 L261.2,326.4 L263.3,326.0 L265.4,325.9 L267.5,326.0 L269.6,326.4 L271.6,327.1 L273.6,328.0 L275.5,329.2 L277.4,330.5 L279.2,332.1 L281.0,333.8 L282.8,335.7 L284.5,337.8 L286.2,340.0 L287.8,342.3 L289.4,344.8 L291.0,347.3 L292.5,350.0 L293.9,352.7 L295.4,355.6 L296.7,358.5 L298.1,361.4 L299.4,364.4 L300.6,367.4 L301.8,370.5 L303.0,373.6 L304.1,376.7 L305.2,379.7 L306.3,382.8 L307.3,385.9 L308.2,388.9 L309.1,391.9 L310.0,394.9 L310.8,397.8 L311.6,400.6 L312.4,403.4 L313.1,406.1 L313.7,408.7 L314.3,411.2 L314.9,413.7 L315.4,416.0 L315.9,418.2 L316.4,420.3 L316.8,422.3 L317.1,424.2 L317.5,425.9 L317.7,427.4 L318.0,428.8 L318.2,430.0 L318.3,431.0 L318.4,431.8 L318.5,432.4 L318.5,432.6 L368.6,432.6" stroke="#ff9933"/>
<path d="M162.2,432.6 L220.4,432.6 L220.4,432.4 L220.5,431.9 L220.5,431.1 L220.7,430.1 L220.8,428.9 L221.0,427.4 L221.3,425.8 L221.5,424.0 L221.8,421.9 L222.2,419.8 L222.6,417.4 L223.0,414.9 L223.4,412.3 L223.9,409.5 L224.4,406.6 L225.0,403.5 L225.6,400.4 L226.2,397.1 L226.9,393.8 L227.6,390.4 L228.3,386.9 L229.1,383.3 L229.9,379.7 L230.8,376.0 L231.6,372.3 L232.6,368.5 L233.5,364.8 L234.5,361.1 L235.5,357.3 L236.6,353.6 L237.7,349.9 L238.8,346.3 L240.0,342.7 L241.2,339.2 L242.4,335.8 L243.7,332.5 L245.0,329.3 L246.4,326.2 L247.8,323.3 L249.2,320.6 L250.7,318.0 L252.1,315.6 L253.7,313.4 L255.2,311.5 L256.8,309.8 L258.5,308.4 L260.2,307.2 L261.9,306.4 L263.6,305.8 L265.4,305.7 L267.2,305.8 L268.9,306.4 L270.6,307.2 L272.3,308.4 L274.0,309.8 L275.6,311.5 L277.1,313.4 L278.7,315.6 L280.1,318.0 L281.6,320.6 L283.0,323.3 L284.4,326.2 L285.8,329.3 L287.1,332.5 L288.4,335.8 L289.6,339.2 L290.8,342.7 L292.0,346.3 L293.1,349.9 L294.2,353.6 L295.3,357.3 L296.3,361.1 L297.3,364.8 L298.2,368.5 L299.2,372.3 L300.0,376.0 L300.9,379.7 L301.7,383.3 L302.5,386.9 L303.2,390.4 L303.9,393.8 L304.6,397.1 L305.2,400.4 L305.8,403.5 L306.4,406.6 L306.9,409.5 L307.4,412.3 L307.8,414.9 L308.2,417.4 L308.6,419.8 L309.0,421.9 L309.3,424.0 L309.5,425.8 L309.8,427.4 L310.0,428.9 L310.1,430.1 L310.3,431.1 L310.3,431.9 L310.4,432.4 L310.4,432.6 L368.6,432.6" stroke="#a033b0"/>
<path d="M162.2,432.6 L223.6,432.6 L223.7,432.5 L223.7,432.1 L223.8,431.6 L223.9,430.8 L224.1,429.8 L224.3,428.5 L224.5,427.1 L224.7,425.4 L225.0,423.5 L225.3,421.5 L225.7,419.2 L226.1,416.7 L226.5,414.0 L226.9,411.2 L227.4,408.2 L227.9,405.0 L228.5,401.7 L229.1,398.2 L229.7,394.5 L230.3,390.8 L231.0,386.9 L231.7,382.9 L232.5,378.9 L233.3,374.7 L234.1,370.5 L234.9,366.2 L235.8,361.9 L236.7,357.5 L237.7,353.1 L238.7,348.8 L239.7,344.4 L240.8,340.1 L241.8,335.8 L243.0,331.6 L244.1,327.5 L245.3,323.5 L246.5,319.7 L247.8,315.9 L249.1,312.4 L250.4,309.0 L251.7,305.8 L253.1,302.9 L254.5,300.2 L256.0,297.8 L257.5,295.7 L259.0,293.9 L260.5,292.5 L262.1,291.5 L263.7,290.8 L265.4,290.6 L267.1,290.8 L268.7,291.5 L270.3,292.5 L271.8,293.9 L273.3,295.7 L274.8,297.8 L276.3,300.2 L277.7,302.9 L279.1,305.8 L280.4,309.0 L281.7,312.4 L283.0,315.9 L284.3,319.7 L285.5,323.5 L286.7,327.5 L287.8,331.6 L289.0,335.8 L290.0,340.1 L291.1,344.4 L292.1,348.8 L293.1,353.1 L294.1,357.5 L295.0,361.9 L295.9,366.2 L296.7,370.5 L297.5,374.7 L298.3,378.9 L299.1,382.9 L299.8,386.9 L300.5,390.8 L301.1,394.5 L301.7,398.2 L302.3,401.7 L302.9,405.0 L303.4,408.2 L303.9,411.2 L304.3,414.0 L304.7,416.7 L305.1,419.2 L305.5,421.5 L305.8,423.5 L306.1,425.4 L306.3,427.1 L306.5,428.5 L306.7,429.8 L306.9,430.8 L307.0,431.6 L307.1,432.1 L307.1,432.5 L307.1,432.6 L368.6,432.6" stroke="#33b3e6"/>
<path d="M162.2,432.6 L226.4,432.6 L226.4,432.5 L226.4,432.1 L226.5,431.5 L226.6,430.7 L226.7,429.6 L226.9,428.2 L227.1,426.7 L227.4,424.9 L227.6,422.9 L227.9,420.7 L228.2,418.2 L228.6,415.6 L229.0,412.7 L229.4,409.7 L229.9,406.4 L230.4,403.0 L230.9,399.4 L231.4,395.7 L232.0,391.8 L232.6,387.8 L233.2,383.6 L233.9,379.3 L234.6,375.0 L235.4,370.5 L236.1,366.0 L236.9,361.4 L237.7,356.7 L238.6,352.1 L239.5,347.4 L240.4,342.7 L241.4,338.0 L242.3,333.4 L243.4,328.8 L244.4,324.3 L245.5,319.9 L246.6,315.6 L247.7,311.5 L248.9,307.5 L250.1,303.7 L251.3,300.1 L252.6,296.7 L253.9,293.5 L255.2,290.6 L256.6,288.1 L258.0,285.8 L259.4,283.9 L260.9,282.4 L262.3,281.3 L263.9,280.6 L265.4,280.3 L266.9,280.6 L268.5,281.3 L269.9,282.4 L271.4,283.9 L272.8,285.8 L274.2,288.1 L275.6,290.6 L276.9,293.5 L278.2,296.7 L279.5,300.1 L280.7,303.7 L281.9,307.5 L283.1,311.5 L284.2,315.6 L285.3,319.9 L286.4,324.3 L287.4,328.8 L288.4,333.4 L289.4,338.0 L290.4,342.7 L291.3,347.4 L292.2,352.1 L293.1,356.7 L293.9,361.4 L294.7,366.0 L295.4,370.5 L296.2,375.0 L296.9,379.3 L297.6,383.6 L298.2,387.8 L298.8,391.8 L299.4,395.7 L299.9,399.4 L300.4,403.0 L300.9,406.4 L301.4,409.7 L301.8,412.7 L302.2,415.6 L302.6,418.2 L302.9,420.7 L303.2,422.9 L303.4,424.9 L303.7,426.7 L303.9,428.2 L304.1,429.6 L304.2,430.7 L304.3,431.5 L304.4,432.1 L304.4,432.5 L304.4,432.6 L368.6,432.6" stroke="#f5e040"/>
</g>
<text x="57.44" y="205.10" font-size="12.40" text-anchor="middle">−0.2</text>
<text x="104.12" y="205.10" font-size="12.40" text-anchor="middle">−0.1</text>
<text x="150.80" y="205.10" font-size="12.40" text-anchor="middle">0</text>
<text x="197.48" y="205.10" font-size="12.40" text-anchor="middle">0.1</text>
<text x="244.16" y="205.10" font-size="12.40" text-anchor="middle">0.2</text>
<text x="43.20" y="196.50" font-size="12.40" text-anchor="end">0</text>
<text x="43.20" y="147.39" font-size="12.40" text-anchor="end">10</text>
<text x="43.20" y="98.27" font-size="12.40" text-anchor="end">20</text>
<text x="43.20" y="49.16" font-size="12.40" text-anchor="end">30</text>
<text x="293.22" y="205.10" font-size="12.40" text-anchor="middle">−10</text>
<text x="332.76" y="205.10" font-size="12.40" text-anchor="middle">−5</text>
<text x="372.30" y="205.10" font-size="12.40" text-anchor="middle">0</text>
<text x="411.84" y="205.10" font-size="12.40" text-anchor="middle">5</text>
<text x="451.38" y="205.10" font-size="12.40" text-anchor="middle">10</text>
<text x="478.70" y="196.50" font-size="12.40" text-anchor="start">0</text>
<text x="478.70" y="147.24" font-size="12.40" text-anchor="start">0.1</text>
<text x="478.70" y="97.99" font-size="12.40" text-anchor="start">0.2</text>
<text x="478.70" y="48.73" font-size="12.40" text-anchor="start">0.3</text>
<text x="172.60" y="445.80" font-size="12.40" text-anchor="middle">−2</text>
<text x="219.30" y="445.80" font-size="12.40" text-anchor="middle">−1</text>
<text x="266.00" y="445.80" font-size="12.40" text-anchor="middle">0</text>
<text x="312.70" y="445.80" font-size="12.40" text-anchor="middle">1</text>
<text x="359.40" y="445.80" font-size="12.40" text-anchor="middle">2</text>
<text x="372.70" y="436.70" font-size="12.40" text-anchor="start">0</text>
<text x="372.70" y="402.44" font-size="12.40" text-anchor="start">0.2</text>
<text x="372.70" y="368.18" font-size="12.40" text-anchor="start">0.4</text>
<text x="372.70" y="333.92" font-size="12.40" text-anchor="start">0.6</text>
<text x="372.70" y="299.66" font-size="12.40" text-anchor="start">0.8</text>
<text x="372.70" y="265.40" font-size="12.40" text-anchor="start">1</text>
<text x="124.38" y="10.44" font-size="12.60" text-anchor="middle">(2, 3, 5)</text>
<path d="M149.00,7.20H158.20" stroke="#222" stroke-width="0.95"/>
<path d="M159.70,7.20L156.30,5.10Q157.10,7.20 156.30,9.30Z" fill="#222"/>
<text transform="translate(168.28,10.80) scale(1.050,1)" font-size="12.60" text-anchor="middle"><tspan font-style="italic">χ</tspan></text>
<text transform="translate(180.34,12.84) scale(1.200,1)" font-size="14.49" text-anchor="middle">&gt;</text>
<text x="191.34" y="10.72" font-size="12.60" text-anchor="middle">0</text>
<text x="349.00" y="10.20" font-size="12.60" text-anchor="middle">(11, 11, 11)</text>
<path d="M382.10,7.20H391.70" stroke="#222" stroke-width="0.95"/>
<path d="M393.20,7.20L389.80,5.10Q390.60,7.20 389.80,9.30Z" fill="#222"/>
<text transform="translate(401.74,10.80) scale(1.050,1)" font-size="12.60" text-anchor="middle"><tspan font-style="italic">χ</tspan></text>
<text transform="translate(413.44,12.84) scale(1.200,1)" font-size="14.49" text-anchor="middle">&lt;</text>
<text x="424.72" y="10.72" font-size="12.60" text-anchor="middle">0</text>
<text transform="translate(241.40,253.04) scale(0.970,1)" font-size="12.60" text-anchor="middle">(2, 3, 6)</text>
<path d="M265.90,250.20H275.20" stroke="#222" stroke-width="0.95"/>
<path d="M276.70,250.20L273.30,248.10Q274.10,250.20 273.30,252.30Z" fill="#222"/>
<text transform="translate(284.84,253.56) scale(1.050,1)" font-size="12.60" text-anchor="middle"><tspan font-style="italic">χ</tspan></text>
<text transform="translate(296.66,255.72) scale(1.100,1)" font-size="14.49" text-anchor="middle">=</text>
<text x="308.62" y="253.72" font-size="12.60" text-anchor="middle">0</text>
<text x="143.48" y="224.04" font-size="13.86" text-anchor="middle"><tspan font-style="italic">t</tspan></text>
<text x="149.02" y="226.36" font-size="12.60" text-anchor="middle"><tspan font-size="15">/</tspan></text>
<text x="155.14" y="224.68" font-size="13.23" text-anchor="middle"><tspan font-style="italic">u</tspan></text>
<text x="371.70" y="224.22" font-size="13.86" text-anchor="middle"><tspan font-style="italic">t</tspan></text>
<text x="253.64" y="465.76" font-size="13.86" text-anchor="middle"><tspan font-style="italic">t</tspan></text>
<text x="258.64" y="467.84" font-size="12.60" text-anchor="middle"><tspan font-size="15">/</tspan></text>
<text x="275.34" y="465.60" font-size="13.23" text-anchor="middle"><tspan font-style="italic">u</tspan></text>
<path d="M262.2,463.3L263.4,462.6L265.7,468.4L271.3,456.4H278.5" fill="none" stroke="#222" stroke-width="0.85" stroke-linejoin="miter"/>
<text transform="translate(13.34,130.08) rotate(-90)" font-size="13.61" text-anchor="middle"><tspan font-style="italic">u</tspan></text>
<text transform="translate(13.82,119.88) rotate(-90)" font-size="13.61" text-anchor="middle"><tspan font-style="italic">μ</tspan></text>
<text transform="translate(16.36,108.84) rotate(-90)" font-size="11.09" text-anchor="middle">eq</text>
<text transform="translate(514.36,115.68) rotate(-90)" font-size="13.61" text-anchor="middle"><tspan font-style="italic">μ</tspan></text>
<text transform="translate(516.74,104.94) rotate(-90)" font-size="11.09" text-anchor="middle">eq</text>
<text transform="translate(410.80,352.88) rotate(-90)" font-size="12.60" text-anchor="middle"><tspan font-style="italic">u</tspan></text>
<text transform="translate(410.32,341.42) rotate(-90)" font-size="12.60" text-anchor="middle"><tspan font-style="italic">μ</tspan></text>
<text transform="translate(412.92,333.20) rotate(-90)" font-size="10.08" text-anchor="middle">eq</text>
<path d="M407.0,365.2L407.6,364.6L412.8,361.6L401.3,356.5V349.2" fill="none" stroke="#222" stroke-width="0.85"/>
<rect x="191.50" y="24.40" width="57.00" height="113.50" fill="#fff" stroke="#333" stroke-width="1.1"/>
<text x="231.10" y="34.20" font-size="10.90" text-anchor="middle"><tspan font-style="italic">u</tspan></text>
<line x1="195.70" y1="45.30" x2="216.70" y2="45.30" stroke="#ff3333" stroke-width="1.15"/>
<text x="230.70" y="48.10" font-size="10.90" text-anchor="middle">81</text>
<line x1="195.70" y1="59.33" x2="216.70" y2="59.33" stroke="#3333ff" stroke-width="1.15"/>
<text x="230.70" y="62.13" font-size="10.90" text-anchor="middle">243</text>
<line x1="195.70" y1="73.36" x2="216.70" y2="73.36" stroke="#333333" stroke-width="1.15"/>
<text x="230.70" y="76.16" font-size="10.90" text-anchor="middle">729</text>
<line x1="195.70" y1="87.39" x2="216.70" y2="87.39" stroke="#33bb33" stroke-width="1.15"/>
<text x="230.70" y="90.19" font-size="10.90" text-anchor="middle">2187</text>
<line x1="195.70" y1="101.42" x2="216.70" y2="101.42" stroke="#d9a06c" stroke-width="1.15"/>
<text x="230.70" y="104.22" font-size="10.90" text-anchor="middle">4374</text>
<line x1="195.70" y1="115.45" x2="216.70" y2="115.45" stroke="#33a3a3" stroke-width="1.15"/>
<text x="230.70" y="118.25" font-size="10.90" text-anchor="middle">6561</text>
<line x1="195.70" y1="129.48" x2="216.70" y2="129.48" stroke="#ff9933" stroke-width="1.15"/>
<text x="230.70" y="132.28" font-size="10.90" text-anchor="middle">8748</text>
<rect x="413.30" y="23.90" width="57.00" height="142.00" fill="#fff" stroke="#333" stroke-width="1.1"/>
<text x="452.70" y="33.50" font-size="10.90" text-anchor="middle"><tspan font-style="italic">u</tspan></text>
<line x1="417.20" y1="44.60" x2="438.00" y2="44.60" stroke="#ff3333" stroke-width="1.15"/>
<text x="452.30" y="47.40" font-size="10.90" text-anchor="middle">1</text>
<line x1="417.20" y1="58.60" x2="438.00" y2="58.60" stroke="#3333ff" stroke-width="1.15"/>
<text x="452.30" y="61.40" font-size="10.90" text-anchor="middle">3</text>
<line x1="417.20" y1="72.60" x2="438.00" y2="72.60" stroke="#333333" stroke-width="1.15"/>
<text x="452.30" y="75.40" font-size="10.90" text-anchor="middle">9</text>
<line x1="417.20" y1="86.60" x2="438.00" y2="86.60" stroke="#33bb33" stroke-width="1.15"/>
<text x="452.30" y="89.40" font-size="10.90" text-anchor="middle">27</text>
<line x1="417.20" y1="100.60" x2="438.00" y2="100.60" stroke="#d9a06c" stroke-width="1.15"/>
<text x="452.30" y="103.40" font-size="10.90" text-anchor="middle">81</text>
<line x1="417.20" y1="114.60" x2="438.00" y2="114.60" stroke="#33a3a3" stroke-width="1.15"/>
<text x="452.30" y="117.40" font-size="10.90" text-anchor="middle">243</text>
<line x1="417.20" y1="128.60" x2="438.00" y2="128.60" stroke="#ff9933" stroke-width="1.15"/>
<text x="452.30" y="131.40" font-size="10.90" text-anchor="middle">729</text>
<line x1="417.20" y1="142.60" x2="438.00" y2="142.60" stroke="#a033b0" stroke-width="1.15"/>
<text x="452.30" y="145.40" font-size="10.90" text-anchor="middle">2187</text>
<line x1="417.20" y1="156.60" x2="438.00" y2="156.60" stroke="#33b3e6" stroke-width="1.15"/>
<text x="452.30" y="159.40" font-size="10.90" text-anchor="middle">6561</text>
<rect x="99.60" y="261.50" width="56.70" height="155.90" fill="#fff" stroke="#333" stroke-width="1.1"/>
<text x="139.00" y="271.10" font-size="10.90" text-anchor="middle"><tspan font-style="italic">u</tspan></text>
<line x1="103.40" y1="282.60" x2="124.70" y2="282.60" stroke="#ff3333" stroke-width="1.15"/>
<text x="138.60" y="285.40" font-size="10.90" text-anchor="middle">1</text>
<line x1="103.40" y1="296.56" x2="124.70" y2="296.56" stroke="#3333ff" stroke-width="1.15"/>
<text x="138.60" y="299.36" font-size="10.90" text-anchor="middle">3</text>
<line x1="103.40" y1="310.52" x2="124.70" y2="310.52" stroke="#333333" stroke-width="1.15"/>
<text x="138.60" y="313.32" font-size="10.90" text-anchor="middle">9</text>
<line x1="103.40" y1="324.48" x2="124.70" y2="324.48" stroke="#33bb33" stroke-width="1.15"/>
<text x="138.60" y="327.28" font-size="10.90" text-anchor="middle">27</text>
<line x1="103.40" y1="338.44" x2="124.70" y2="338.44" stroke="#d9a06c" stroke-width="1.15"/>
<text x="138.60" y="341.24" font-size="10.90" text-anchor="middle">81</text>
<line x1="103.40" y1="352.40" x2="124.70" y2="352.40" stroke="#33a3a3" stroke-width="1.15"/>
<text x="138.60" y="355.20" font-size="10.90" text-anchor="middle">243</text>
<line x1="103.40" y1="366.36" x2="124.70" y2="366.36" stroke="#ff9933" stroke-width="1.15"/>
<text x="138.60" y="369.16" font-size="10.90" text-anchor="middle">729</text>
<line x1="103.40" y1="380.32" x2="124.70" y2="380.32" stroke="#a033b0" stroke-width="1.15"/>
<text x="138.60" y="383.12" font-size="10.90" text-anchor="middle">2187</text>
<line x1="103.40" y1="394.28" x2="124.70" y2="394.28" stroke="#33b3e6" stroke-width="1.15"/>
<text x="138.60" y="397.08" font-size="10.90" text-anchor="middle">4374</text>
<line x1="103.40" y1="408.24" x2="124.70" y2="408.24" stroke="#f5e040" stroke-width="1.15"/>
<text x="138.60" y="411.04" font-size="10.90" text-anchor="middle">6561</text>
</svg>
</body></html>
